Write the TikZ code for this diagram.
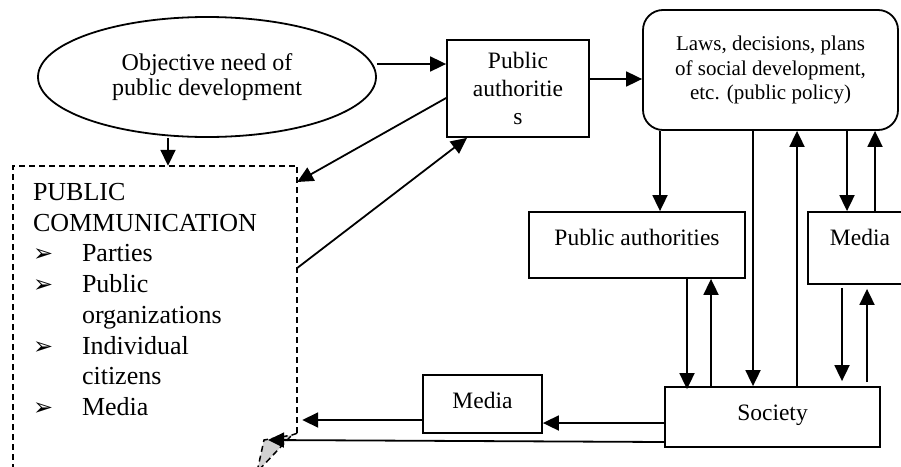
\documentclass[tikz,border=0pt]{standalone}
\usepackage{fontspec}
\setmainfont{Liberation Serif}
\newfontfamily\arrowfont{DejaVu Sans}
\usetikzlibrary{arrows.meta,shapes,positioning}
\tikzset{>={Triangle[width=15pt,length=16pt]}}
\tikzset{box/.style={shape=rectangle, draw, line width=1.8pt, inner sep=0pt,
    font=\fontsize{23.5}{28}\selectfont, align=center}}
\tikzset{cloud/.style={shape=ellipse, draw, line width=1.8pt, inner sep=0pt,
    font=\fontsize{24}{25.5}\selectfont, align=center}}
\tikzset{link/.style={->, line width=1.8pt}}
\tikzset{dashline/.style={line width=1.8pt, dash pattern=on 6pt off 4pt}}
\newcommand{\bul}{\makebox[49pt][l]{\hspace{0pt}{\arrowfont\fontsize{24}{24}\selectfont ➢}}}
\newcommand{\nobul}{\makebox[49pt]{}}

\begin{document}
\begin{tikzpicture}[x=1pt, y=-1pt]
    \useasboundingbox (0,0) rectangle (901,466);
    \clip (0,0) rectangle (901,466);
    % upper row
    \node[cloud, minimum width=338pt, minimum height=120pt] (need) at (207,77)
        {Objective need of\\public development};
    \node[box, minimum width=142pt, minimum height=97pt] (auth) at (518,88.5)
        {Public\\authoritie\\s};
    \node[box, rounded corners=20pt, minimum width=255pt, minimum height=120pt,
        font=\fontsize{21}{24.5}\selectfont] (laws) at (770.5,70)
        {Laws, decisions, plans\\of social development,\\etc. (public policy)};
    % public communication
    \node[text width=244pt, inner xsep=20pt, inner ysep=0pt, minimum height=267pt,
        align=left, font=\fontsize{26}{30.7}\selectfont] (comm) at (155,299.5)
        {PUBLIC\\COMMUNICATION\\\bul Parties\\\bul Public\\\nobul organizations\\
         \bul Individual\\\nobul citizens\\\bul Media\\[10pt]};
    % lower boxes
    \node[box, minimum width=216pt, minimum height=66pt, text height=16pt, text depth=16pt] (auth2) at (637,245) {Public authorities};
    \node[box, minimum width=104pt, minimum height=72pt, text height=16pt, text depth=22pt] (media2) at (860,248) {Media};
    \node[box, minimum width=215pt, minimum height=60pt, text height=16pt, text depth=10pt] (soc) at (772.5,417) {Society};
    \node[box, minimum width=119pt, minimum height=58pt, text height=16pt, text depth=8pt] (media3) at (482.5,404) {Media};
    \coordinate (corner) at (268,440);

    \draw[dashline] (comm.south east) -- (comm.north east) -- (comm.north west) -- ([yshift=-60pt]comm.south west);
    \filldraw[dashline, fill=gray!35, line width=1.5pt] (comm.south east) -- (292,435) -- (264,440) -- (257,472) -- (292,435);

    \draw[link] (need.east |- 0,64) to (auth.west |- 0,64);
    \draw[link] (auth.east |- 0,79) to (laws.west |- 0,79);
    \draw[link] (auth.west |- 0,98) to (comm.east |- 0,182);
    \draw[link] (comm.east |- 0,268) to (auth.south -| 467,0);
    \draw[link] (need.south -| 168,0) to (comm.north -| 168,0);

    \draw[link] (laws.south -| 660,0) to (auth2.north -| 660,0);
    \draw[link] (laws.south -| 753,0) to (soc.north -| 753,0);
    \draw[link] (soc.north -| 797,0) to (laws.south -| 797,0);
    \draw[link] (laws.south -| 847,0) to (media2.north -| 847,0);
    \draw[link] (media2.north -| 875,0) to (laws.south -| 875,0);
    \draw[link, shorten >=-3pt] (auth2.south -| 687,0) to (soc.north -| 687,0);
    \draw[link] (soc.north -| 711,0) to (auth2.south -| 711,0);
    \draw[link, shorten <=3pt, shorten >=5pt] (media2.south -| 842,0) to (soc.north -| 842,0);
    \draw[link, shorten <=4pt, shorten >=4pt] (soc.north -| 867,0) to (media2.south -| 867,0);

    \draw[link] (soc.west |- 0,423) to (media3.east |- 0,423);
    \draw[link, shorten >=5pt] (media3.west |- 0,420) to (comm.east |- 0,420);
    \draw[link] (soc.west |- 0,442) to (corner);
\end{tikzpicture}
\end{document}
